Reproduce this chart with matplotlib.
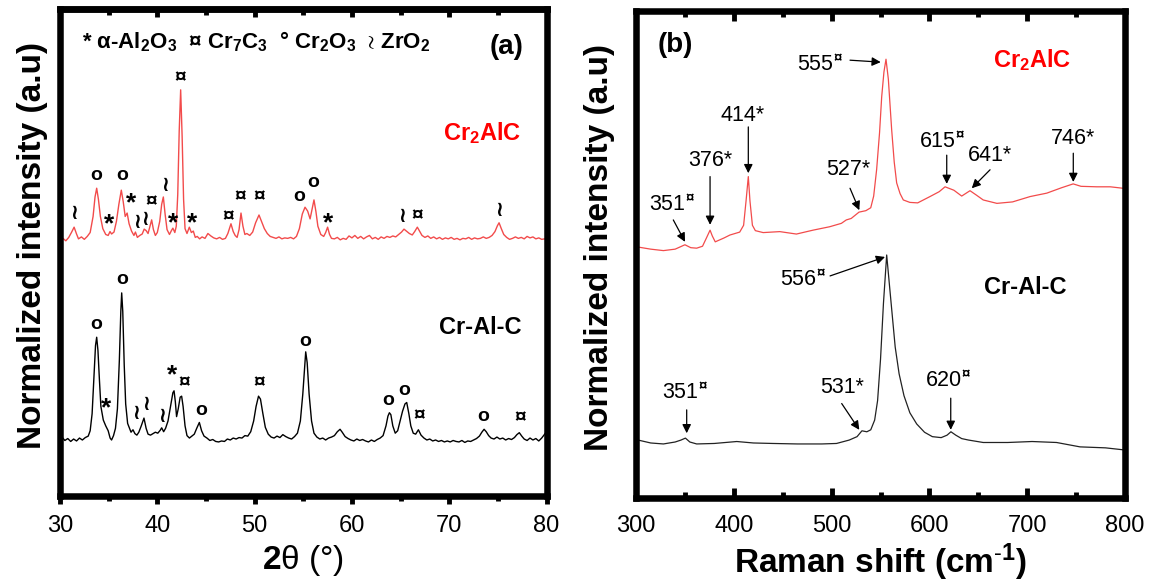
import matplotlib
matplotlib.use("Agg")
import matplotlib.pyplot as plt
from matplotlib.ticker import MultipleLocator, NullLocator

plt.rcParams['font.family'] = ['Liberation Sans', 'DejaVu Sans']
plt.rcParams['mathtext.fontset'] = 'custom'
plt.rcParams['mathtext.rm'] = 'Liberation Sans'
plt.rcParams['mathtext.sf'] = 'Liberation Sans'
plt.rcParams['mathtext.bf'] = 'Liberation Sans:bold'
plt.rcParams['mathtext.it'] = 'Liberation Sans:italic'
plt.rcParams['mathtext.fallback'] = 'stix'

# ---------------- XRD data (2theta, normalized intensity) ----------------
xrd_red_2theta = [30.0, 30.3, 30.6, 30.9, 31.2, 31.45, 31.7, 31.9, 32.2, 32.5, 32.8, 33.1, 33.4, 33.6, 33.77,
                  33.95, 34.15, 34.4, 34.7, 34.95, 35.14, 35.3, 35.55, 35.8, 36.05, 36.3, 36.5, 36.7, 36.9,
                  37.1, 37.35, 37.6, 37.75, 37.95, 38.2, 38.45, 38.65, 38.85, 39.05, 39.25, 39.42, 39.6, 39.8,
                  40.0, 40.25, 40.45, 40.62, 40.8, 41.0, 41.25, 41.45, 41.6, 41.8, 41.95, 42.1, 42.25, 42.4,
                  42.55, 42.7, 42.85, 43.05, 43.29, 43.5, 43.7, 43.9, 44.1, 44.35, 44.6, 44.9, 45.2, 45.5,
                  45.8, 46.1, 46.4, 46.7, 47.0, 47.25, 47.57, 47.8, 48.0, 48.2, 48.4, 48.6, 48.8, 49.0, 49.2,
                  49.5, 49.8, 50.1, 50.45, 50.7, 51.0, 51.3, 51.6, 51.9, 52.2, 52.5, 52.8, 53.1, 53.4, 53.7,
                  54.0, 54.3, 54.6, 54.9, 55.18, 55.45, 55.7, 55.9, 56.1, 56.3, 56.5, 56.8, 57.1, 57.3, 57.5,
                  57.7, 57.9, 58.2, 58.5, 58.8, 59.1, 59.4, 59.7, 60.0, 60.3, 60.6, 60.9, 61.2, 61.5, 61.8,
                  62.1, 62.4, 62.7, 63.0, 63.3, 63.6, 63.9, 64.2, 64.5, 64.8, 65.1, 65.35, 65.6, 65.9, 66.2,
                  66.45, 66.72, 66.95, 67.2, 67.5, 67.8, 68.1, 68.4, 68.7, 69.0, 69.3, 69.6, 69.9, 70.2, 70.5,
                  70.8, 71.1, 71.4, 71.7, 72.0, 72.3, 72.6, 72.9, 73.2, 73.5, 73.8, 74.1, 74.4, 74.7, 74.95,
                  75.12, 75.35, 75.6, 75.9, 76.2, 76.5, 76.8, 77.1, 77.4, 77.7, 78.0, 78.3, 78.6, 78.9, 79.2,
                  79.5, 79.8, 80.0]
xrd_red_int = [52.6, 53.0, 52.5, 53.2, 54.3, 55.3, 53.9, 52.9, 53.3, 52.8, 53.4, 54.2, 57.5, 61.5, 63.3,
               61.0, 57.5, 55.0, 53.8, 53.6, 54.4, 53.9, 54.3, 56.5, 60.0, 62.9, 60.5, 57.5, 58.2,
               56.0, 54.5, 53.6, 54.3, 53.2, 53.6, 53.9, 54.9, 54.6, 54.0, 55.5, 56.8, 54.8, 53.6,
               54.2, 56.5, 60.0, 61.5, 58.0, 54.8, 53.8, 54.6, 55.1, 54.2, 55.5, 62.0, 75.0, 83.5,
               74.0, 61.0, 55.0, 54.0, 55.3, 54.2, 54.5, 53.2, 53.4, 52.9, 53.3, 53.0, 54.0, 53.5,
               53.1, 52.9, 53.2, 52.8, 53.0, 54.0, 56.0, 54.4, 53.6, 53.2, 54.8, 58.2, 55.5, 53.8, 54.0,
               53.6, 54.3, 56.2, 57.8, 56.5, 55.0, 54.0, 53.4, 53.2, 53.0, 53.3, 52.9, 53.1, 53.0, 53.2,
               52.9, 53.4, 55.0, 58.0, 59.4, 58.6, 57.0, 59.0, 60.9, 58.5, 55.5, 53.8, 53.4, 54.2, 55.3,
               53.8, 53.0, 52.9, 53.2, 52.7, 53.0, 52.8, 53.5, 53.1, 53.6, 53.0, 53.4, 52.9, 53.3, 53.6,
               52.9, 53.2, 52.8, 53.3, 53.0, 53.4, 53.2, 53.5, 53.3, 53.8, 54.3, 54.9, 54.5, 54.0, 53.7,
               54.4, 55.3, 54.5, 53.6, 53.2, 53.5, 53.0, 53.3, 52.9, 53.2, 52.8, 53.1, 52.9, 53.2, 52.8,
               53.0, 52.7, 53.0, 52.9, 53.2, 52.8, 53.1, 52.9, 53.0, 53.3, 53.0, 53.2, 53.6, 54.4, 55.6,
               56.2, 55.0, 53.8, 53.2, 52.8, 53.0, 53.3, 53.0, 53.2, 52.9, 53.4, 53.1, 53.3, 52.9, 53.1,
               52.8, 52.9, 52.7]

xrd_blk_2theta = [30.0, 30.2, 30.5, 30.8, 31.1, 31.4, 31.7, 32.0, 32.3, 32.6, 32.9, 33.1, 33.3, 33.5, 33.65,
                  33.77, 33.9, 34.05, 34.2, 34.45, 34.7, 34.95, 35.15, 35.3, 35.5, 35.7, 35.9, 36.1, 36.25,
                  36.34, 36.45, 36.6, 36.75, 36.95, 37.15, 37.3, 37.5, 37.7, 37.9, 38.1, 38.35, 38.63, 38.85,
                  39.05, 39.3, 39.55, 39.8, 40.05, 40.3, 40.45, 40.65, 40.85, 41.1, 41.4, 41.6, 41.72, 41.85,
                  41.98, 42.15, 42.35, 42.5, 42.65, 42.85, 43.05, 43.3, 43.55, 43.8, 44.05, 44.32, 44.55,
                  44.8, 45.1, 45.4, 45.7, 46.0, 46.3, 46.6, 46.9, 47.2, 47.5, 47.8, 48.1, 48.4, 48.7, 49.0,
                  49.3, 49.6, 49.9, 50.15, 50.4, 50.6, 50.85, 51.1, 51.4, 51.7, 52.0, 52.3, 52.6, 52.9, 53.2,
                  53.5, 53.8, 54.1, 54.4, 54.7, 54.95, 55.15, 55.25, 55.4, 55.6, 55.85, 56.1, 56.4, 56.7,
                  57.0, 57.3, 57.6, 57.9, 58.2, 58.5, 58.78, 59.0, 59.3, 59.6, 59.9, 60.2, 60.5, 60.8, 61.1,
                  61.4, 61.7, 62.0, 62.3, 62.6, 62.9, 63.2, 63.5, 63.7, 63.85, 64.0, 64.2, 64.45, 64.7,
                  64.95, 65.2, 65.45, 65.63, 65.85, 66.05, 66.3, 66.55, 66.83, 67.1, 67.4, 67.7, 68.0, 68.3,
                  68.6, 68.9, 69.2, 69.5, 69.8, 70.1, 70.4, 70.7, 71.0, 71.3, 71.6, 71.9, 72.2, 72.5, 72.8,
                  73.1, 73.35, 73.58, 73.8, 74.05, 74.3, 74.6, 74.9, 75.2, 75.5, 75.8, 76.1, 76.4, 76.7,
                  76.95, 77.2, 77.45, 77.7, 78.0, 78.3, 78.6, 78.9, 79.2, 79.5, 79.8, 80.0]
xrd_blk_int = [13.0, 12.2, 11.5, 11.9, 11.3, 11.8, 11.4, 12.0, 11.6, 12.1, 12.4, 13.5, 17.0, 25.0, 31.0,
               32.7, 30.0, 24.0, 18.5, 15.7, 14.5, 13.5, 12.0, 11.6, 12.5, 14.0, 18.0, 28.0, 38.0,
               41.8, 38.0, 27.0, 19.0, 15.0, 14.0, 13.2, 13.7, 12.9, 12.6, 13.2, 14.5, 16.1, 14.0,
               12.8, 12.6, 12.9, 13.2, 13.0, 13.6, 14.1, 13.3, 14.0, 15.5, 19.0, 21.3, 21.7, 19.5,
               16.4, 18.0, 20.4, 20.6, 18.5, 14.5, 12.5, 12.0, 12.4, 12.8, 14.0, 15.2, 13.5,
               12.4, 12.0, 11.5, 11.7, 11.3, 11.2, 11.4, 11.3, 11.8, 11.6, 12.0, 11.8, 12.1, 12.0, 12.5,
               12.4, 13.3, 15.5, 18.5, 20.6, 20.0, 17.0, 14.2, 12.8, 12.2, 12.0, 12.4, 12.1, 12.7, 12.3,
               12.0, 11.8, 12.3, 13.0, 15.5, 21.0, 27.0, 29.7, 27.5, 21.0, 15.5, 13.0, 12.2, 11.8,
               12.0, 11.6, 12.0, 12.2, 12.5, 13.3, 13.8, 13.2, 12.3, 11.9, 11.6, 11.4, 11.8, 11.5, 11.7,
               11.4, 11.2, 11.6, 11.3, 11.7, 12.0, 12.5, 14.5, 16.5, 17.2, 16.8, 14.5, 13.0, 13.5,
               15.5, 17.5, 19.0, 19.3, 17.0, 14.5, 13.0, 12.8, 13.7, 12.6, 12.0, 11.6, 11.8, 11.4,
               11.6, 11.3, 11.5, 11.2, 11.4, 11.2, 11.5, 11.3, 11.2, 11.5, 11.1, 11.4, 11.3, 11.6, 11.9,
               12.4, 13.2, 13.8, 13.3, 12.5, 12.0, 11.8, 12.2, 11.8, 12.0, 11.6, 11.9, 11.7, 12.1,
               12.7, 13.1, 12.4, 11.8, 11.5, 12.0, 11.6, 11.9, 11.4, 12.0, 12.8, 13.3]

# phase markers on XRD curves: (symbol, 2theta, height)
xrd_red_marks = [("≀", 31.44, 58.2), ("o", 33.77, 66.0), ("*", 35.04, 57.6), ("o", 36.34, 66.0),
                 ("*", 37.3, 62.0), ("≀", 37.9, 56.3), ("≀", 38.74, 56.8), ("¤", 39.42, 60.5),
                 ("≀", 40.8, 63.9), ("*", 41.58, 57.8), ("¤", 42.4, 85.9), ("*", 43.54, 57.8),
                 ("¤", 47.3, 57.4), ("¤", 48.5, 61.5), ("¤", 50.45, 61.5), ("o", 54.6, 61.5),
                 ("o", 56.03, 64.4), ("*", 57.5, 57.8), ("≀", 65.2, 57.4), ("¤", 66.72, 57.6),
                 ("≀", 75.12, 58.8)]
xrd_blk_marks = [("o", 33.77, 35.4), ("*", 34.73, 20.0), ("o", 36.34, 44.5), ("≀", 37.81, 17.1),
                 ("≀", 38.84, 18.8), ("≀", 40.45, 16.5), ("*", 41.48, 26.6), ("¤", 42.74, 23.3),
                 ("o", 44.46, 17.6), ("¤", 50.48, 23.3), ("o", 55.18, 31.8), ("o", 63.74, 19.7),
                 ("o", 65.35, 21.7), ("¤", 66.93, 16.6), ("o", 73.5, 16.5), ("¤", 77.28, 16.1)]

# ---------------- Raman data (shift, normalized intensity) ----------------
raman_red_shift = [300, 315, 328, 340, 350, 356, 362, 368, 372, 375.7, 378, 381, 390, 396, 406, 410,
                   412.5, 414.8, 416.5, 419, 422, 430, 447, 464, 481, 498, 510, 515, 520, 528, 535, 540,
                   543, 546, 549, 551.2, 553.5, 555.6, 558, 561.4, 564, 566.5, 570, 573.3, 580, 588, 600.6,
                   610, 616, 625, 633, 641.5, 648, 655, 669, 685, 703, 720, 735, 747, 755, 771, 785, 798]
raman_red_int = [51.6, 51.1, 50.8, 51.1, 52.0, 51.4, 51.3, 51.7, 53.4, 55.0, 53.8, 52.6, 53.4, 54.0, 54.6, 56.0,
                 61.0, 66.0, 61.0, 56.0, 54.9, 54.5, 54.7, 54.2, 55.0, 55.7, 56.4, 57.1, 57.4, 58.7, 59.0, 59.6,
                 62.0, 67.4, 75.0, 82.4, 87.5, 90.1, 86.0, 75.6, 69.0, 64.7, 62.5, 61.2, 60.7, 60.6, 61.9,
                 62.9, 63.9, 63.2, 62.0, 63.1, 62.2, 61.2, 60.5, 60.8, 61.9, 62.6, 63.7, 64.5, 64.0, 63.9, 63.9, 63.6]

raman_blk_shift = [300, 315, 328, 340, 346, 350.5, 355, 362, 380, 403, 420, 440, 465, 490, 505, 518, 526,
                   531, 536, 540, 544, 547, 550, 553, 556.3, 559, 562, 565, 569, 574, 580, 587, 595, 603,
                   612, 618, 622, 627, 633, 640, 655, 680, 705, 730, 754, 780, 798]
raman_blk_int = [12.0, 11.3, 11.1, 11.5, 11.9, 12.3, 11.5, 11.1, 11.2, 11.6, 11.3, 11.2, 11.1, 11.1, 11.2, 11.9, 12.6,
                 13.8, 13.6, 14.0, 16.0, 20.0, 28.5, 40.0, 49.9, 44.0, 37.5, 31.0, 25.5, 21.0, 17.5, 15.2, 13.5, 12.6,
                 12.4, 12.9, 13.6, 12.9, 12.2, 11.9, 11.4, 11.4, 11.6, 11.4, 10.5, 10.3, 9.9]

# Raman peak labels: (label, text x, text y, arrow tail x, tail y, head x, head y)
raman_red_labels = [("351$^\\mathbf{¤}$", 336.5, 60.2, 338.1, 57.1, 350.1, 52.6),
                    ("376*", 375.7, 69.4, 375.7, 66.0, 375.7, 56.1),
                    ("414*", 409.4, 78.6, 414.8, 76.2, 414.8, 66.7),
                    ("527*", 516.8, 67.4, 518.8, 63.6, 528.3, 59.1),
                    ("555$^\\mathbf{¤}$", 488.1, 88.9, 518.8, 89.9, 550.2, 89.5),
                    ("615$^\\mathbf{¤}$", 612.6, 73.0, 617.7, 70.4, 617.7, 64.5),
                    ("641*", 662.0, 70.4, 662.0, 67.4, 643.3, 63.6),
                    ("746*", 746.8, 73.9, 747.1, 70.8, 747.1, 64.9)]
raman_blk_labels = [("556$^\\mathbf{¤}$", 470.8, 44.8, 498.4, 45.6, 554.6, 49.5),
                    ("351$^\\mathbf{¤}$", 350.1, 21.6, 351.8, 18.1, 351.8, 13.3),
                    ("531*", 510.3, 22.6, 510.3, 19.4, 528.3, 14.0),
                    ("620$^\\mathbf{¤}$", 619.3, 23.9, 621.8, 20.5, 621.8, 14.0)]

xrd_xticks = [30, 40, 50, 60, 70, 80]
raman_xticks = [300, 400, 500, 600, 700, 800]

RED_LINE = '#f24b4b'
RED_TEXT = '#ff0000'
SPINE_W = 4.7

fig = plt.figure(figsize=(11.56, 5.85), dpi=100)
ax1 = fig.add_axes([0.0519, 0.1513, 0.4209, 0.8325])
ax2 = fig.add_axes([0.5502, 0.1487, 0.4230, 0.8325])

for ax in (ax1, ax2):
    for s in ax.spines.values():
        s.set_linewidth(SPINE_W)
    ax.set_ylim(0, 100)
    ax.yaxis.set_major_locator(NullLocator())
    ax.yaxis.set_minor_locator(NullLocator())

# ---- panel (a) ----
ax1.plot(xrd_red_2theta, xrd_red_int, color=RED_LINE, lw=1.0)
ax1.plot(xrd_blk_2theta, xrd_blk_int, color='black', lw=1.0)
ax1.set_xlim(30, 80)
ax1.set_xticks(xrd_xticks)
ax1.xaxis.set_minor_locator(MultipleLocator(5))
ax1.tick_params(axis='x', which='major', direction='out', length=6, width=3.5, labelsize=17, pad=7.5)
ax1.tick_params(axis='x', which='minor', direction='out', length=3.5, width=3.5)
sec = ax1.secondary_xaxis('top')
sec.set_xticks(xrd_xticks)
sec.xaxis.set_minor_locator(MultipleLocator(5))
sec.tick_params(axis='x', which='major', direction='in', length=5.5, width=3.5, labeltop=False)
sec.tick_params(axis='x', which='minor', direction='in', length=4, width=3.5)
sec.spines['top'].set_linewidth(SPINE_W)

mark_size = {"o": 14, "*": 19, "¤": 15, "≀": 15}
mark_dy = {"o": 0.0, "*": -1.8, "¤": 0.0, "≀": 0.0}
for sym, x, y in xrd_red_marks + xrd_blk_marks:
    ax1.text(x, y + mark_dy[sym], sym, ha='center', va='center', fontsize=mark_size[sym],
             fontweight='bold', family=['Liberation Sans', 'DejaVu Sans'])

ax1.text(0.403, 0.933, r"* α-Al$_\mathbf{2}$O$_\mathbf{3}$  ¤ Cr$_\mathbf{7}$C$_\mathbf{3}$  ° Cr$_\mathbf{2}$O$_\mathbf{3}$  $\wr$ ZrO$_\mathbf{2}$",
         transform=ax1.transAxes, ha='center', va='center', fontsize=16, fontweight='bold')
ax1.text(0.917, 0.922, "(a)", transform=ax1.transAxes, ha='center', va='center', fontsize=20, fontweight='bold')
ax1.text(0.867, 0.746, r"Cr$_\mathbf{2}$AlC", transform=ax1.transAxes, ha='center', va='center',
         fontsize=17, fontweight='bold', color=RED_TEXT)
ax1.text(0.863, 0.348, "Cr-Al-C", transform=ax1.transAxes, ha='center', va='center',
         fontsize=17, fontweight='bold', color='black')
ax1.set_xlabel(r"$\mathbf{2}$θ (°)", fontsize=24)
ax1.xaxis.set_label_coords(0.5, -0.095)
ax1.set_ylabel("Normalized intensity (a.u)", fontsize=24, fontweight='bold')
ax1.yaxis.set_label_coords(-0.025, 0.515)

# ---- panel (b) ----
ax2.plot(raman_red_shift, raman_red_int, color=RED_LINE, lw=0.9)
ax2.plot(raman_blk_shift, raman_blk_int, color='#222222', lw=0.9)
ax2.set_xlim(300, 800)
ax2.set_xticks(raman_xticks)
ax2.xaxis.set_minor_locator(MultipleLocator(50))
ax2.tick_params(axis='x', which='major', direction='in', length=7, width=3.5, labelsize=17, pad=12.5, top=True)
ax2.tick_params(axis='x', which='minor', direction='in', length=4.5, width=3.5, top=True)

for lab, tx, ty, ax_, ay_, hx, hy in raman_red_labels + raman_blk_labels:
    ax2.text(tx, ty, lab, ha='center', va='center', fontsize=15.5)
    ax2.annotate("", xy=(hx, hy), xytext=(ax_, ay_),
                 arrowprops=dict(arrowstyle='-|>', color='black', lw=0.9, mutation_scale=13,
                                 shrinkA=0, shrinkB=0))

ax2.text(0.080, 0.930, "(b)", transform=ax2.transAxes, ha='center', va='center', fontsize=20, fontweight='bold')
ax2.text(0.810, 0.899, r"Cr$_\mathbf{2}$AlC", transform=ax2.transAxes, ha='center', va='center',
         fontsize=17, fontweight='bold', color=RED_TEXT)
ax2.text(0.795, 0.433, "Cr-Al-C", transform=ax2.transAxes, ha='center', va='center',
         fontsize=17, fontweight='bold', color='black')
ax2.set_xlabel(r"Raman shift (cm$^{\text{-}\mathbf{1}}$)", fontsize=24, fontweight='bold')
ax2.xaxis.set_label_coords(0.5, -0.09)
ax2.set_ylabel("Normalized intensity (a.u)", fontsize=24, fontweight='bold')
ax2.yaxis.set_label_coords(-0.043, 0.515)

fig.savefig("out.png", dpi=100)
